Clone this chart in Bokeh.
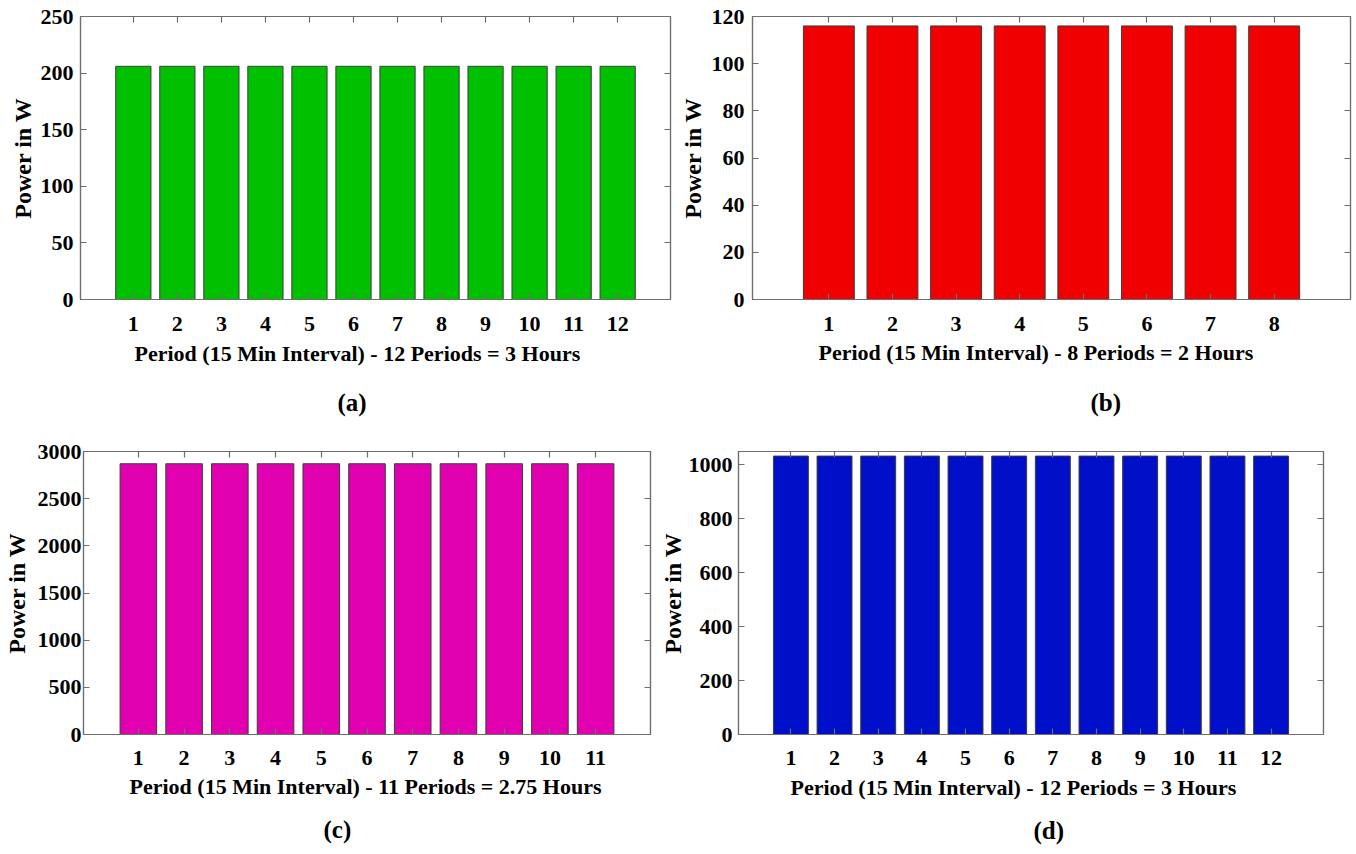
from bokeh.plotting import figure
from bokeh.layouts import column, row
from bokeh.models import Range1d, FixedTicker, LinearAxis, Title
from bokeh.embed import file_html
from bokeh.resources import INLINE

FONT = "Liberation Serif"
GRAY = "#6e6e6e"

# ---- data ----
periods_a = [1, 2, 3, 4, 5, 6, 7, 8, 9, 10, 11, 12]
power_a = [206, 206, 206, 206, 206, 206, 206, 206, 206, 206, 206, 206]
yticks_a = [0, 50, 100, 150, 200, 250]

periods_b = [1, 2, 3, 4, 5, 6, 7, 8]
power_b = [116, 116, 116, 116, 116, 116, 116, 116]
yticks_b = [0, 20, 40, 60, 80, 100, 120]

periods_c = [1, 2, 3, 4, 5, 6, 7, 8, 9, 10, 11]
power_c = [2870, 2870, 2870, 2870, 2870, 2870, 2870, 2870, 2870, 2870, 2870]
yticks_c = [0, 500, 1000, 1500, 2000, 2500, 3000]

periods_d = [1, 2, 3, 4, 5, 6, 7, 8, 9, 10, 11, 12]
power_d = [1033, 1033, 1033, 1033, 1033, 1033, 1033, 1033, 1033, 1033, 1033, 1033]
yticks_d = [0, 200, 400, 600, 800, 1000]

xlabel_a = "Period (15 Min Interval) - 12 Periods = 3 Hours"
xlabel_b = "Period (15 Min Interval) - 8 Periods = 2 Hours"
xlabel_c = "Period (15 Min Interval) - 11 Periods = 2.75 Hours"
xlabel_d = "Period (15 Min Interval) - 12 Periods = 3 Hours"
ylabel = "Power in W"


def style_axis(ax, labels=True):
    ax.axis_line_color = GRAY
    ax.axis_line_width = 1.2
    ax.major_tick_line_color = GRAY
    ax.major_tick_line_width = 1.2
    ax.major_tick_in = 6
    ax.major_tick_out = 0
    ax.minor_tick_line_color = None
    if labels:
        ax.major_label_text_font = FONT
        ax.major_label_text_font_style = "bold"
        ax.major_label_text_font_size = "22px"
        ax.major_label_text_color = "black"
        ax.axis_label_text_font = FONT
        ax.axis_label_text_font_style = "bold"
        ax.axis_label_text_color = "black"
    else:
        ax.major_label_text_font_size = "1px"
        ax.major_label_text_color = None
        ax.major_label_standoff = 0


def panel(periods, power, color, ymax, yticks, xlabel, caption, width, height,
          bl, br, bt, bb, ylab_standoff, tick_standoff_y, tick_standoff_x,
          xlab_off, xlab_standoff, cap_off, cap_standoff):
    p = figure(width=width, height=height,
               x_range=Range1d(-0.2, len(periods) + 1.2),
               y_range=Range1d(0, ymax),
               output_backend="svg", toolbar_location=None,
               min_border_left=bl, min_border_right=br,
               min_border_top=bt, min_border_bottom=bb)
    p.vbar(x=periods, top=power, width=0.8, fill_color=color,
           line_color="#3c3c3c", line_width=1)
    p.grid.visible = False
    p.outline_line_color = GRAY
    p.outline_line_width = 1.2
    p.background_fill_color = "white"
    p.border_fill_color = "white"

    xa = p.xaxis[0]
    xa.ticker = FixedTicker(ticks=periods)
    style_axis(xa)
    xa.major_label_standoff = tick_standoff_x

    ya = p.yaxis[0]
    ya.ticker = FixedTicker(ticks=yticks)
    style_axis(ya)
    ya.major_label_standoff = tick_standoff_y
    ya.axis_label = ylabel
    ya.axis_label_text_font_size = "24px"
    ya.axis_label_standoff = ylab_standoff

    top = LinearAxis(ticker=FixedTicker(ticks=periods))
    style_axis(top, labels=False)
    p.add_layout(top, "above")
    right = LinearAxis(ticker=FixedTicker(ticks=yticks))
    style_axis(right, labels=False)
    p.add_layout(right, "right")

    p.add_layout(Title(text=xlabel, align="left", offset=xlab_off,
                       standoff=xlab_standoff, text_font=FONT,
                       text_font_style="bold", text_font_size="22px",
                       text_color="black"), "below")
    p.add_layout(Title(text=caption, align="left", offset=cap_off,
                       standoff=cap_standoff, text_font=FONT,
                       text_font_style="bold", text_font_size="25px",
                       text_color="black"), "below")
    return p


# row 1: y 0..433 ; row 2: y 433..854
pa = panel(periods_a, power_a, "#00c000", 250, yticks_a, xlabel_a, "(a)",
           676, 433, 80, 6, 16, 133, 2, 7, 17, 54, 10, 257, 33)
pb = panel(periods_b, power_b, "#f00000", 120, yticks_b, xlabel_b, "(b)",
           680, 433, 74, 6, 16, 133, 3, 8, 17, 66, 8, 338, 36)
pc = panel(periods_c, power_c, "#e000b0", 3000, yticks_c, xlabel_c, "(c)",
           656, 421, 82, 6, 18, 119, 5, 2, 16, 46, 8, 240, 23)
pd = panel(periods_d, power_d, "#0010c8", 1050, yticks_d, xlabel_d, "(d)",
           700, 421, 82, 33, 18, 119, 0, 6, 16, 52, 10, 295, 21)

layout = column(row(pa, pb, spacing=0), row(pc, pd, spacing=0), spacing=0)

open("out.html", "w").write(file_html(layout, INLINE))
